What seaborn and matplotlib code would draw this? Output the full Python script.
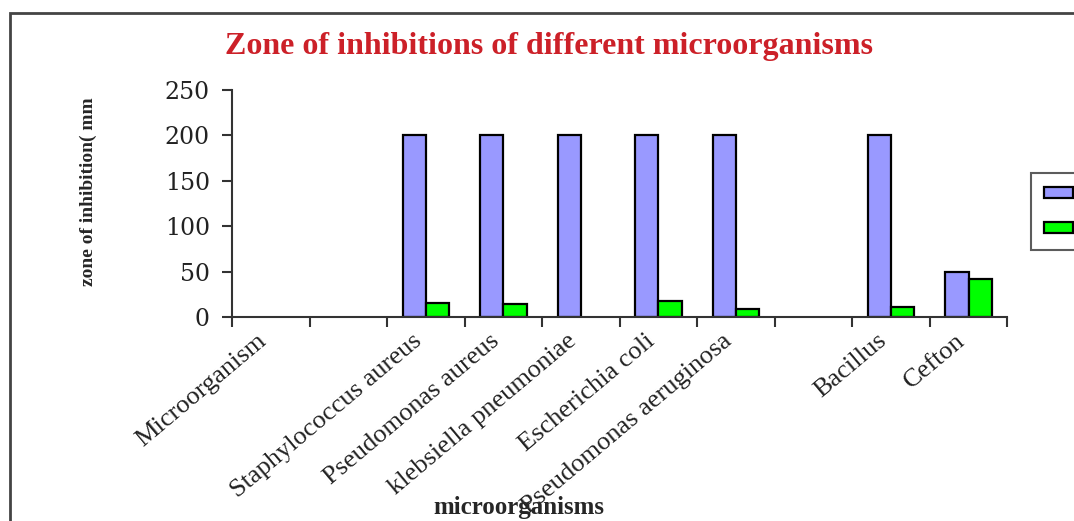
import matplotlib
matplotlib.use('Agg')
import matplotlib.pyplot as plt
import matplotlib.patches as mpatches
import matplotlib.transforms as mtransforms
import numpy as np
import pandas as pd
import seaborn as sns

#%% data
categories = ['Microorganism', ' ', 'Staphylococcus aureus', 'Pseudomonas aureus',
              'klebsiella pneumoniae', 'Escherichia coli', 'Pseudomonas aeruginosa',
              '  ', 'Bacillus', 'Cefton']
series1 = [np.nan, np.nan, 200, 200, 200, 200, 200, np.nan, 200, 50]
series2 = [np.nan, np.nan, 16, 15, np.nan, 18, 9, np.nan, 11, 42]
series_names = ['Series1', 'Series2']
yticks = [0, 50, 100, 150, 200, 250]

df = pd.DataFrame({'Microorganism': categories * 2,
                   'series': [series_names[0]] * len(categories) + [series_names[1]] * len(categories),
                   'value': series1 + series2})

#%% style
sns.set_style('white')
plt.rcParams['font.family'] = ['Liberation Serif', 'DejaVu Serif']

fig = plt.figure(figsize=(10.74, 5.21), dpi=100)
ax = fig.add_axes([0.216, 0.391, 0.722, 0.437])

sns.barplot(data=df, x='Microorganism', y='value', hue='series', order=categories,
            hue_order=series_names, palette=['#9999FF', '#00FF00'], width=0.6,
            edgecolor='black', linewidth=1.6, saturation=1, ax=ax)

ax.set_ylim(0, 250)
ax.set_xlim(-0.5, len(categories) - 0.5)
ax.set_yticks(yticks)
ax.set_yticklabels([str(t) for t in yticks], fontsize=17, color='#222222',
                   family=['DejaVu Serif'])
ax.tick_params(axis='y', direction='out', length=7, width=1.5, color='#333333', left=True, pad=9)

# labels at category centres, tick marks at the boundaries
ax.set_xticks(np.arange(len(categories)))
ax.set_xticklabels(categories, rotation=40, ha='right', va='top',
                   rotation_mode='anchor', fontsize=19, color='#222222')
ax.tick_params(axis='x', which='major', length=0, pad=9)
shift = mtransforms.ScaledTranslation(-14 / 100, 0, fig.dpi_scale_trans)
for lab in ax.get_xticklabels():
    lab.set_transform(lab.get_transform() + shift)
ax.set_xticks(np.arange(len(categories) + 1) - 0.5, minor=True)
ax.tick_params(axis='x', which='minor', direction='out', length=7, width=1.5,
               color='#333333', bottom=True)

for s in ['top', 'right']:
    ax.spines[s].set_visible(False)
for s in ['left', 'bottom']:
    ax.spines[s].set_color('#333333')
    ax.spines[s].set_linewidth(1.5)

ax.set_ylabel('zone of inhibition( mm', fontsize=14, fontweight='bold', va='center')
ax.yaxis.set_label_coords(-0.185, 0.55)
ax.set_xlabel('microorganisms', fontsize=18, fontweight='bold', va='center')
ax.xaxis.set_label_coords(0.37, -0.835)

fig.text(0.511, 0.91, 'Zone of inhibitions of different microorganisms',
         ha='center', va='center', fontsize=23, fontweight='bold', color='#CC2028')

# legend partly cut off by the right edge, series names fall outside the picture
handles, _ = ax.get_legend_handles_labels()
leg = ax.legend(handles, ['', ''], loc='upper left',
                bbox_to_anchor=(1031 / 1074, 1 - 173 / 521),
                bbox_transform=fig.transFigure, borderaxespad=0, frameon=True,
                fancybox=False, edgecolor='#333333', fontsize=13, handlelength=1.6,
                handleheight=0.6, labelspacing=1.0, borderpad=0.7, handletextpad=3)
leg.get_frame().set_linewidth(1.5)

# outer chart border
fig.patches.append(mpatches.Rectangle((10 / 1074, -0.1), 1.2, 1 - 13 / 521 + 0.1,
                                      transform=fig.transFigure, fill=False,
                                      edgecolor='#444444', linewidth=2))

fig.savefig('out.png', dpi=100)
